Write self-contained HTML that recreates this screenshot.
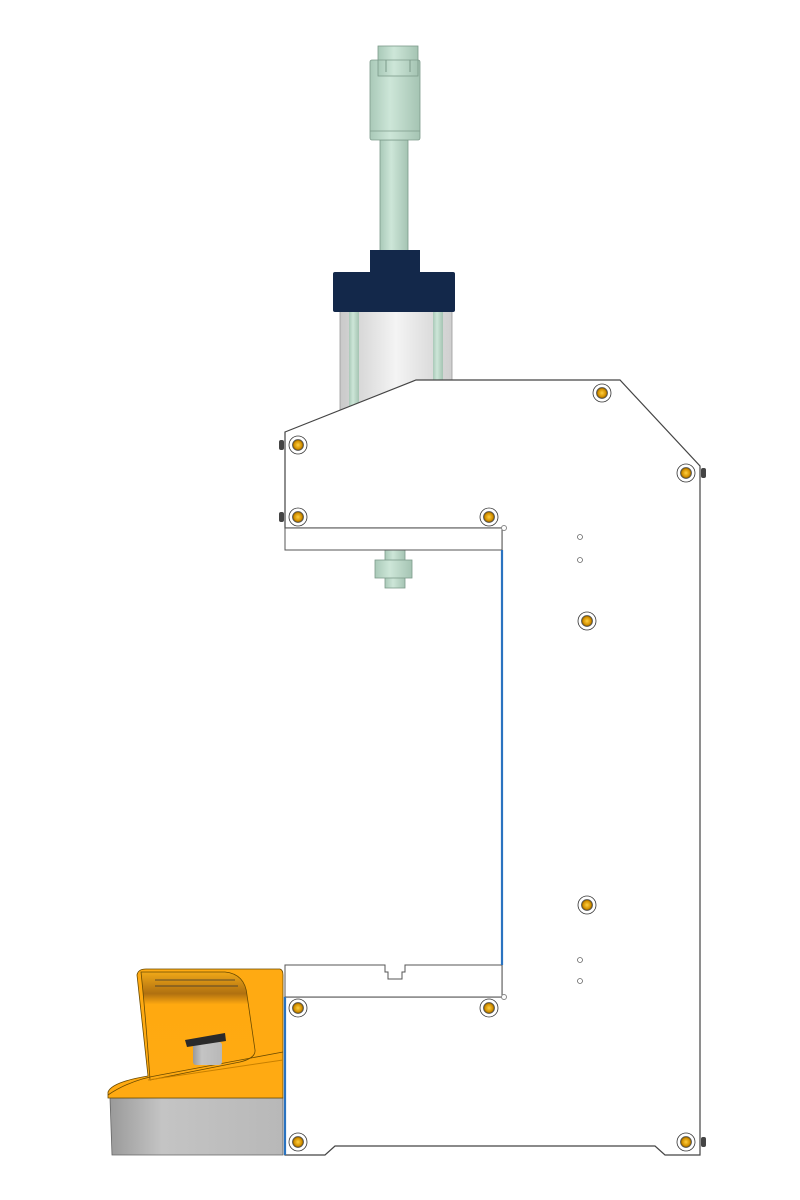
<!DOCTYPE html>
<html><head><meta charset="utf-8"><style>
html,body{margin:0;padding:0;background:#fff;}
svg{display:block}
</style></head><body>
<svg width="800" height="1200" viewBox="0 0 800 1200" xmlns="http://www.w3.org/2000/svg">
<defs>
<linearGradient id="barrel" x1="0" x2="1"><stop offset="0" stop-color="#c9c9c9"/><stop offset="0.5" stop-color="#f4f4f4"/><stop offset="1" stop-color="#cfcfcf"/></linearGradient>
<linearGradient id="green" x1="0" x2="1"><stop offset="0" stop-color="#a9c9b8"/><stop offset="0.4" stop-color="#cde6d8"/><stop offset="1" stop-color="#a5c4b3"/></linearGradient>
<linearGradient id="grey" x1="0" x2="1"><stop offset="0" stop-color="#9a9a9a"/><stop offset="0.3" stop-color="#c4c4c4"/><stop offset="1" stop-color="#b8b8b8"/></linearGradient>
<linearGradient id="orange" x1="0" y1="0" x2="0" y2="1"><stop offset="0" stop-color="#f0a818"/><stop offset="0.2" stop-color="#b07010"/><stop offset="0.3" stop-color="#ffa910"/><stop offset="1" stop-color="#ffaa12"/></linearGradient>
<radialGradient id="bolt"><stop offset="0" stop-color="#ffd040"/><stop offset="0.7" stop-color="#d49000"/><stop offset="1" stop-color="#6a4a00"/></radialGradient>
</defs>
<rect width="800" height="1200" fill="#fff"/>

<!-- top nut and rod -->
<rect x="380" y="140" width="28" height="112" fill="url(#green)" stroke="#7c9a8a" stroke-width="0.8"/>
<rect x="370" y="60" width="50" height="80" rx="2" fill="url(#green)" stroke="#7c9a8a" stroke-width="0.8"/>
<line x1="370" y1="131" x2="420" y2="131" stroke="#7c9a8a" stroke-width="0.8"/>
<rect x="378" y="46" width="40" height="30" fill="url(#green)" stroke="#7c9a8a" stroke-width="0.8"/>
<line x1="386" y1="60" x2="386" y2="72" stroke="#7c9a8a"/><line x1="410" y1="60" x2="410" y2="72" stroke="#7c9a8a"/>
<line x1="378" y1="60" x2="418" y2="60" stroke="#7c9a8a" stroke-width="0.8"/>

<!-- cylinder -->
<rect x="340" y="310" width="112" height="100" fill="url(#barrel)" stroke="#999" stroke-width="0.8"/>
<rect x="349" y="310" width="10" height="100" fill="url(#green)"/>
<rect x="433" y="310" width="10" height="100" fill="url(#green)"/>
<rect x="370" y="250" width="50" height="24" fill="#13284a"/>
<rect x="333" y="272" width="122" height="40" rx="2" fill="#13284a"/>

<!-- lower rod -->
<rect x="385" y="548" width="20" height="40" fill="url(#green)" stroke="#7c9a8a" stroke-width="0.8"/>
<rect x="375" y="560" width="37" height="18" fill="url(#green)" stroke="#7c9a8a" stroke-width="0.8"/>

<!-- main frame -->
<path d="M285,432 L416,380 L620,380 L700,466 L700,1155 L665,1155 L655,1146 L335,1146 L325,1155 L285,1155 L285,997 L502,997 L502,528 L285,528 Z" fill="#fff" stroke="#444" stroke-width="1.2"/>
<rect x="285" y="528" width="217" height="22" fill="#fff" stroke="#555" stroke-width="1"/>
<path d="M285,965 L385,965 L385,972 L388,972 L388,979 L402,979 L402,972 L405,972 L405,965 L502,965 L502,997 L285,997 Z" fill="#fff" stroke="#555" stroke-width="1"/>
<line x1="502" y1="550" x2="502" y2="965" stroke="#2a73c0" stroke-width="2.2"/>
<line x1="285" y1="997" x2="285" y2="1155" stroke="#2a73c0" stroke-width="2.2"/>
<circle cx="504" cy="528" r="2.5" fill="#fff" stroke="#888"/>
<circle cx="504" cy="997" r="2.5" fill="#fff" stroke="#888"/>

<!-- nubs -->
<rect x="279" y="440" width="5" height="10" rx="2" fill="#444"/>
<rect x="279" y="512" width="5" height="10" rx="2" fill="#444"/>
<rect x="701" y="468" width="5" height="10" rx="2" fill="#444"/>
<rect x="701" y="1137" width="5" height="10" rx="2" fill="#444"/>

<!-- bolts -->
<g stroke="#333" stroke-width="0.8">
<g fill="#fff"><circle cx="298" cy="445" r="9"/><circle cx="298" cy="517" r="9"/><circle cx="489" cy="517" r="9"/><circle cx="602" cy="393" r="9"/><circle cx="686" cy="473" r="9"/><circle cx="587" cy="621" r="9"/><circle cx="587" cy="905" r="9"/><circle cx="298" cy="1008" r="9"/><circle cx="489" cy="1008" r="9"/><circle cx="298" cy="1142" r="9"/><circle cx="686" cy="1142" r="9"/></g>
<g fill="url(#bolt)" stroke="#555"><circle cx="298" cy="445" r="5.5"/><circle cx="298" cy="517" r="5.5"/><circle cx="489" cy="517" r="5.5"/><circle cx="602" cy="393" r="5.5"/><circle cx="686" cy="473" r="5.5"/><circle cx="587" cy="621" r="5.5"/><circle cx="587" cy="905" r="5.5"/><circle cx="298" cy="1008" r="5.5"/><circle cx="489" cy="1008" r="5.5"/><circle cx="298" cy="1142" r="5.5"/><circle cx="686" cy="1142" r="5.5"/></g>
<g fill="#fff" stroke="#666"><circle cx="580" cy="537" r="2.5"/><circle cx="580" cy="560" r="2.5"/><circle cx="580" cy="960" r="2.5"/><circle cx="580" cy="981" r="2.5"/></g>
</g>

<!-- foot pedal -->
<path d="M110,1098 L283,1098 L283,1155 L112,1155 Z" fill="url(#grey)" stroke="#666" stroke-width="0.8"/>
<path d="M137,975 Q138,969 146,969 L280,969 Q283,970 283,975 L283,1098 L108,1098 L108,1092 Q112,1082 148,1076 Z" fill="#ffaa12" stroke="#6a4a00" stroke-width="0.8"/>
<path d="M141,972 L225,972 Q245,974 247,995 L255,1050 Q256,1058 240,1062 L150,1080 Q146,1020 141,972 Z" fill="url(#orange)" stroke="#6a4a00" stroke-width="0.8"/>
<path d="M108,1095 Q130,1080 160,1075 L283,1052" fill="none" stroke="#6a4a00" stroke-width="0.8"/>
<path d="M148,1080 L283,1060" fill="none" stroke="#c88000" stroke-width="1"/>
<line x1="155" y1="980" x2="235" y2="980" stroke="#333" stroke-width="0.8"/>
<line x1="155" y1="986" x2="238" y2="986" stroke="#333" stroke-width="0.8"/>
<rect x="193" y="1042" width="29" height="23" rx="3" fill="url(#grey)"/>
<path d="M185,1040 L225,1033 L226,1041 L187,1047 Z" fill="#2a2a2a"/>
</svg>
</body></html>
